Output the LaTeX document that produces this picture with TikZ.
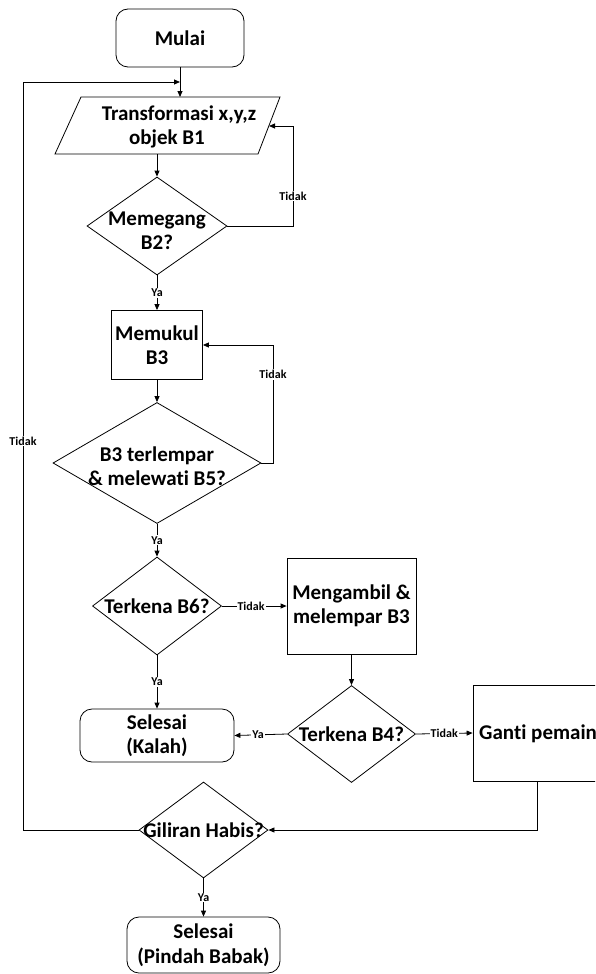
\documentclass[tikz,border=0pt]{standalone}
\usepackage{fontspec}
\setmainfont{Carlito}[Ligatures=NoCommon]
\usetikzlibrary{shapes.geometric,arrows.meta}
\tikzset{
  ln/.style={draw=black, line width=0.8pt},
  arr/.style={ln, -{Triangle[length=6pt,width=5pt]}},
  lbl/.style={font=\fontsize{12}{13}\selectfont\bfseries, fill=white, inner sep=1pt},
  txt/.style={font=\fontsize{21}{24.5}\selectfont\bfseries, align=center, inner sep=0pt},
  dia/.style={ln, diamond, inner sep=0pt, minimum width=#1},
  box/.style={ln, rectangle, inner sep=0pt},
  term/.style={ln, rectangle, rounded corners=12pt, inner sep=0pt},
}
\begin{document}
\begin{tikzpicture}[x=1pt, y=-1pt]
\useasboundingbox (0,0) rectangle (595,974);
\clip (0,0) rectangle (595,974);

% terminal start
\node[term, minimum width=128pt, minimum height=58pt] (mulai) at (180,38) {};
\node[txt] (mulait) at (mulai) {Mulai};

% parallelogram
\coordinate (pa) at (81,97);
\coordinate (pb) at (280,97);
\coordinate (pc) at (258,154);
\coordinate (pd) at (55,154);
\draw[ln] (pa) -- (pb) -- (pc) -- (pd) -- cycle;
\node[txt] (trans) at (167,127) {\hspace*{24pt}Transformasi x,y,z\\objek B1};
\coordinate (ptop) at (180,97);
\coordinate (pbot) at (157,154);
\coordinate (pright) at (269,126);

% decision 1
\node[dia=140pt, minimum height=98pt] (d1) at (157,226) {};
\node[txt] (d1t) at (157,231) {Memegang\\B2?};

% process memukul
\node[box, minimum width=91pt, minimum height=69pt] (memukul) at (157,345) {};
\node[txt] (memukult) at (memukul) {Memukul\\B3};

% decision 2
\node[dia=208pt, minimum height=121pt] (d2) at (157,463) {};
\node[txt] (d2t) at (157,466) {B3 terlempar\\\& melewati B5?};

% decision 3
\node[dia=129pt, minimum height=98pt] (d3) at (157,606) {};
\node[txt] (d3t) at (d3) {Terkena B6?};

% process mengambil
\node[box, minimum width=129pt, minimum height=96pt] (ambil) at (351.5,606) {};
\node[txt] (ambilt) at (ambil) {Mengambil \&\\melempar B3};

% decision 4
\node[dia=128pt, minimum height=97pt] (d4) at (351.5,734) {};
\node[txt] (d4t) at (d4) {Terkena B4?};

% kalah
\node[term, minimum width=154pt, minimum height=53pt] (kalah) at (157,735.5) {};
\node[txt] (kalaht) at (kalah) {Selesai\\(Kalah)};

% ganti pemain
\node[box, minimum width=167pt, minimum height=96pt] (ganti) at (556.5,733) {};
\node[txt, anchor=west] (gantit) at (479,734) {Ganti pemain};
\coordinate (gb) at (537,781);

% decision giliran
\node[dia=129pt, minimum height=96pt] (gil) at (203.5,830) {};
\node[txt] (gilt) at (gil) {Giliran Habis?};

% pindah babak
\node[term, minimum width=153pt, minimum height=56pt] (pindah) at (203.5,945) {};
\node[txt] (pindaht) at (pindah) {Selesai\\(Pindah Babak)};

\coordinate (lt) at (23,82);

% connectors
\draw[arr] (mulai.south) -- (ptop);
\draw[arr] (pbot) -- (d1.north);
\draw[arr] (d1.east) -- (293,226) -- node[lbl, pos=0.3] (l1) {Tidak} (293,126) -- (pright);
\draw[arr] (d1.south) -- node[lbl] (l2) {Ya} (memukul.north);
\draw[arr] (memukul.south) -- (d2.north);
\draw[arr] (d2.east) -- (273,463) -- node[lbl, pos=0.75] (l3) {Tidak} (273,345) -- (memukul.east);
\draw[arr] (d2.south) -- node[lbl] (l4) {Ya} (d3.north);
\draw[arr] (d3.east) -- node[lbl, pos=0.45] (l5) {Tidak} (ambil.west);
\draw[arr] (d3.south) -- node[lbl] (l6) {Ya} (kalah.north);
\draw[arr] (ambil.south) -- (d4.north);
\draw[arr] (d4.west) -- node[lbl, pos=0.55] (l7) {Ya} (kalah.east);
\draw[arr] (d4.east) -- node[lbl] (l8) {Tidak} (ganti.west);
\draw[arr] (gb) -- (gb |- gil.east) -- (gil.east);
\draw[arr] (gil.west) -- (gil.west -| lt) -- node[lbl, pos=0.52] (l9) {Tidak} (lt) -- (lt -| mulai.south);
\draw[arr] (gil.south) -- node[lbl] (l10) {Ya} (pindah.north);
\end{tikzpicture}
\end{document}
